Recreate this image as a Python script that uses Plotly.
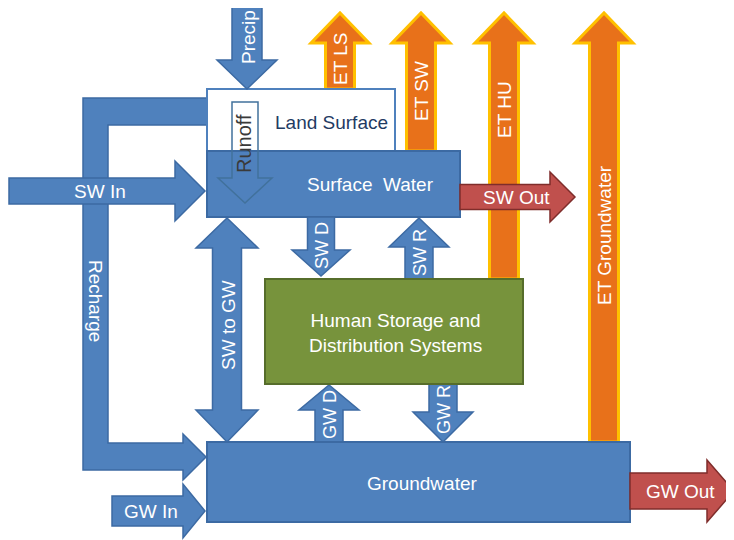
import plotly.graph_objects as go

# ---- diagram content ----
box_labels = ["Land Surface", "Surface  Water", "Human Storage and<br>Distribution Systems", "Groundwater"]
box_x0 = [207, 207, 265, 207]
box_x1 = [395, 460, 523, 630]
box_y0 = [89, 151, 279, 442]
box_y1 = [151, 217, 384, 522]
box_fill = ["#ffffff", "#4f81bd", "#77933c", "#4f81bd"]
box_line = ["#4f81bd", "#3c6aa3", "#566d2b", "#3c6aa3"]
box_text_xy = [(331, 122), (370, 184), (395, 333), (422, 483)]
box_text_color = ["#1f3b63", "white", "white", "white"]

# vertical arrows: label, x centre, shaft half-width, head half-width, tail y, tip y, head length
et_labels = ["ET LS", "ET SW", "ET HU", "ET Groundwater"]
et_xc = [340, 421, 504, 604]
et_tail = [89, 151, 279, 442]
et_text_y = [59, 91, 110, 235]

v_labels = ["Precip", "SW D", "SW R", "GW D", "GW R"]
v_xc = [247, 321, 419, 329, 443]
v_sw = [15, 13.5, 14, 14, 14]
v_hw = [30, 29, 30, 30, 30]
v_tail = [0, 217, 279, 442, 384]
v_tip = [89, 276, 218, 385, 442]
v_hl = [29, 26, 29, 25, 30]
v_text_y = [37, 246, 253, 415, 410]
v_size = [19, 18, 18, 18, 18]

h_labels = ["SW In", "GW In", "SW Out", "GW Out"]
h_yc = [191, 511, 197, 491]
h_sw = [13, 15, 12.5, 18]
h_hw = [30, 27, 25, 31]
h_tail = [9, 112, 460, 630]
h_tip = [205, 205, 575, 734]
h_hl = [30, 22, 25, 27]
h_text_x = [100, 151, 516, 680]
h_fill = ["#4f81bd", "#4f81bd", "#c0504d", "#c0504d"]
h_line = ["#3c6aa3", "#3c6aa3", "#7f2d2b", "#7f2d2b"]

BLUE, BLUE_L = "#4f81bd", "#3c6aa3"
ORANGE, GOLD = "#e8711a", "#ffc000"
FONT = "Liberation Sans, Arial, sans-serif"
OFF = 8  # page body margin compensation


def varrow(xc, sw, hw, y_tail, y_tip, hl):
    d = 1 if y_tip > y_tail else -1
    hb = y_tip - d * hl
    return (f"M {xc-sw},{y_tail} L {xc-sw},{hb} L {xc-hw},{hb} L {xc},{y_tip} "
            f"L {xc+hw},{hb} L {xc+sw},{hb} L {xc+sw},{y_tail} Z")


def harrow(yc, sw, hw, x_tail, x_tip, hl):
    hb = x_tip - hl
    return (f"M {x_tail},{yc-sw} L {hb},{yc-sw} L {hb},{yc-hw} L {x_tip},{yc} "
            f"L {hb},{yc+hw} L {hb},{yc+sw} L {x_tail},{yc+sw} Z")


shapes = []
ann = []


def add_path(path, fill, line, lw=1.5):
    shapes.append(dict(type="path", path=path, fillcolor=fill,
                       line=dict(color=line, width=lw), layer="above"))


def add_text(x, y, t, angle=0, color="white", size=19):
    ann.append(dict(x=x, y=y, text=t, textangle=angle, showarrow=False,
                    font=dict(family=FONT, size=size, color=color),
                    xref="x", yref="y"))


# ET arrows (behind everything)
for lab, xc, tail, ty in zip(et_labels, et_xc, et_tail, et_text_y):
    add_path(varrow(xc, 14.5, 29, tail, 13, 30), ORANGE, GOLD, 3)
    add_text(xc, ty, lab, -90)

# Recharge L-shaped arrow
rech = ("M 212,98 L 83,98 L 83,470 L 183,470 L 183,480 L 206,457 L 183,434 "
        "L 183,443 L 108,443 L 108,125 L 212,125 Z")
add_path(rech, BLUE, BLUE_L)
add_text(96, 301, "Recharge", 90)

# Land surface & surface water boxes
for i in range(2):
    shapes.append(dict(type="rect", x0=box_x0[i], x1=box_x1[i], y0=box_y0[i], y1=box_y1[i],
                       fillcolor=box_fill[i], line=dict(color=box_line[i], width=2), layer="above"))

# SW to GW double arrow
xc, sw, hw = 227, 14.5, 31
sg = (f"M {xc},218 L {xc+hw},248 L {xc+sw},248 L {xc+sw},410 L {xc+hw},410 L {xc},442 "
      f"L {xc-hw},410 L {xc-sw},410 L {xc-sw},248 L {xc-hw},248 Z")
add_path(sg, BLUE, BLUE_L)
add_text(228, 325, "SW to GW", -90)

# vertical blue arrows
for i, lab in enumerate(v_labels):
    add_path(varrow(v_xc[i], v_sw[i], v_hw[i], v_tail[i], v_tip[i], v_hl[i]), BLUE, BLUE_L)
    add_text(v_xc[i] + 1, v_text_y[i], lab, -90, size=v_size[i])

# human storage and groundwater boxes
for i in range(2, 4):
    shapes.append(dict(type="rect", x0=box_x0[i], x1=box_x1[i], y0=box_y0[i], y1=box_y1[i],
                       fillcolor=box_fill[i], line=dict(color=box_line[i], width=2), layer="above"))

# horizontal arrows
for i, lab in enumerate(h_labels):
    add_path(harrow(h_yc[i], h_sw[i], h_hw[i], h_tail[i], h_tip[i], h_hl[i]), h_fill[i], h_line[i])
    add_text(h_text_x[i], h_yc[i], lab)

# Runoff outline arrow on top
add_path(varrow(245, 13, 27, 102, 203, 25), "rgba(0,0,0,0)", "#41719c", 1.5)
add_text(244, 144, "Runoff", -90, color="#3a3a3a", size=20)

# box labels
for lab, (tx, ty), c in zip(box_labels, box_text_xy, box_text_color):
    add_text(tx, ty, lab, 0, color=c)

fig = go.Figure(go.Scatter(x=[0], y=[0], mode="markers", marker=dict(opacity=0),
                           hoverinfo="skip", showlegend=False))
fig.update_layout(
    width=734, height=540, margin=dict(l=0, r=0, t=0, b=0),
    paper_bgcolor="white", plot_bgcolor="white",
    xaxis=dict(range=[OFF, 734 + OFF], visible=False, fixedrange=True),
    yaxis=dict(range=[540 + OFF, OFF], visible=False, fixedrange=True),
    shapes=shapes, annotations=ann, showlegend=False,
)
fig.write_html("out.html")
